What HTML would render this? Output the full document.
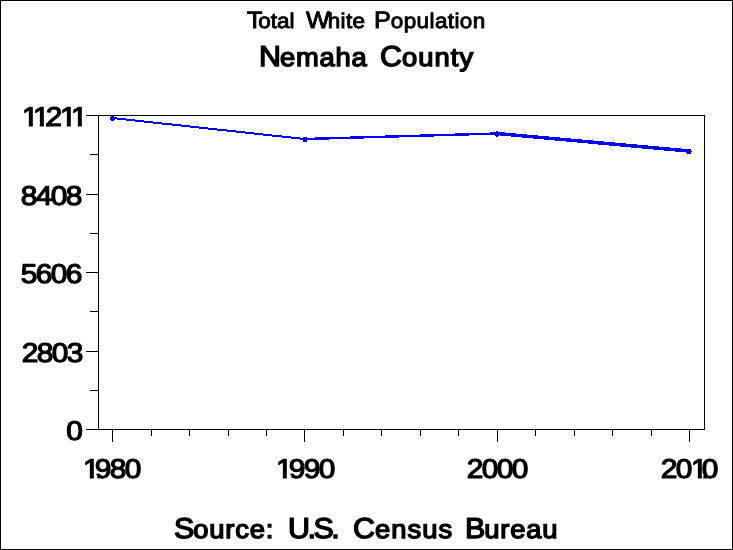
<!DOCTYPE html>
<html><head><meta charset="utf-8"><title>Total White Population - Nemaha County</title><style>
html,body{margin:0;padding:0;background:#fff;overflow:hidden;}
svg{display:block;}
text{font-family:"Liberation Sans", Arial, Helvetica, sans-serif;fill:#000;text-rendering:geometricPrecision;}
.ln{position:absolute;left:0;white-space:nowrap;font-size:0;line-height:0;margin:0;padding:0}
.w{display:inline-block;vertical-align:baseline;white-space:nowrap;margin:0;padding:0;line-height:0;font-family:"Liberation Sans", Arial, Helvetica, sans-serif;color:#000;text-rendering:geometricPrecision;transform-origin:0 0;}
.t1{font-size:21.2px;-webkit-text-stroke-width:0.9px;}
.t1::first-letter{font-size:23.8px;}
.t1.caps{font-size:23.8px;-webkit-text-stroke-width:0.9px;}
.t2{font-size:25.8px;-webkit-text-stroke-width:1.4px;}
.t2::first-letter{font-size:28.7px;}
.t2.caps{font-size:28.7px;-webkit-text-stroke-width:1.4px;}
.ft{font-size:25.8px;-webkit-text-stroke-width:1.4px;}
.ft::first-letter{font-size:28.7px;}
.ft.caps{font-size:28.7px;-webkit-text-stroke-width:1.4px;}
#w0::first-letter{margin-right:-4.00px;letter-spacing:0}
#w1::first-letter{margin-right:-2.00px;letter-spacing:0}
#w2::first-letter{margin-right:0.00px;letter-spacing:0}
#w3::first-letter{margin-right:-1.00px;letter-spacing:0}
#w4::first-letter{margin-right:0.00px;letter-spacing:0}
#w5::first-letter{margin-right:-1.00px;letter-spacing:0}
#w7::first-letter{margin-right:0.00px;letter-spacing:0}
#w8::first-letter{margin-right:-1.00px;letter-spacing:0}

</style></head><body>
<div class="ln" style="top:21.00px"><span id="w0" class="w t1" style="margin-left:247.00px;width:59.00px;transform:scaleX(1.06)">Total</span> <span id="w1" class="w t1" style="width:68.00px;letter-spacing:0.333px;transform:scaleX(1.06)">White</span> <span id="w2" class="w t1" style="letter-spacing:0.375px;transform:scaleX(1.06)">Population</span></div>
<div class="ln" style="top:57.00px"><span id="w3" class="w t2" style="margin-left:259.00px;width:121.00px;letter-spacing:0.750px;transform:scaleX(1.06)">Nemaha</span> <span id="w4" class="w t2" style="letter-spacing:1.000px;transform:scaleX(1.06)">County</span></div>
<svg width="733" height="550" viewBox="0 0 733 550">
<defs><clipPath id="c0" clipPathUnits="userSpaceOnUse"><path clip-rule="evenodd" d="M-50,-40H1000V20H-50ZM20.45,-3.23H26.22V4H20.45ZM29.82,-3.23H36.22V4H29.82ZM39.82,-3.23H41.84V4H39.82ZM55.44,-3.23H60.76V4H55.44ZM64.37,-3.23H70.76V4H64.37ZM74.37,-3.23H79.92V4H74.37Z"/></clipPath><clipPath id="c5" clipPathUnits="userSpaceOnUse"><path clip-rule="evenodd" d="M-50,-40H1000V20H-50ZM75.91,-3.23H81.67V4H75.91ZM85.28,-3.23H88.68V4H85.28Z"/></clipPath><clipPath id="c6" clipPathUnits="userSpaceOnUse"><path clip-rule="evenodd" d="M-50,-40H1000V20H-50ZM251.36,-3.23H257.13V4H251.36ZM260.73,-3.23H265.05V4H260.73Z"/></clipPath><clipPath id="c8" clipPathUnits="userSpaceOnUse"><path clip-rule="evenodd" d="M-50,-40H1000V20H-50ZM628.63,-3.23H634.40V4H628.63ZM638.00,-3.23H639.50V4H638.00Z"/></clipPath></defs>
<rect x="0" y="0" width="733" height="550" fill="#fff"/>
<rect x="0" y="0" width="733" height="1" fill="#000"/>
<rect x="0" y="549" width="733" height="1" fill="#000"/>
<rect x="0" y="0" width="1" height="550" fill="#000"/>
<rect x="732" y="0" width="1" height="550" fill="#000"/>
<rect x="98" y="115" width="607" height="1" fill="#000"/>
<rect x="704" y="115" width="1" height="315" fill="#000"/>
<rect x="86" y="429" width="619" height="1" fill="#000"/>
<rect x="98" y="115" width="1" height="315" fill="#000"/>
<rect x="86" y="115" width="12" height="1" fill="#000"/>
<rect x="86" y="194" width="12" height="1" fill="#000"/>
<rect x="86" y="272" width="12" height="1" fill="#000"/>
<rect x="86" y="351" width="12" height="1" fill="#000"/>
<rect x="86" y="429" width="12" height="1" fill="#000"/>
<rect x="90" y="154" width="8" height="1" fill="#000"/>
<rect x="90" y="233" width="8" height="1" fill="#000"/>
<rect x="90" y="311" width="8" height="1" fill="#000"/>
<rect x="90" y="390" width="8" height="1" fill="#000"/>
<rect x="112" y="429" width="1" height="13" fill="#000"/>
<rect x="304" y="429" width="1" height="13" fill="#000"/>
<rect x="497" y="429" width="1" height="13" fill="#000"/>
<rect x="689" y="429" width="1" height="13" fill="#000"/>
<rect x="151" y="429" width="1" height="7" fill="#000"/>
<rect x="189" y="429" width="1" height="7" fill="#000"/>
<rect x="228" y="429" width="1" height="7" fill="#000"/>
<rect x="266" y="429" width="1" height="7" fill="#000"/>
<rect x="343" y="429" width="1" height="7" fill="#000"/>
<rect x="381" y="429" width="1" height="7" fill="#000"/>
<rect x="420" y="429" width="1" height="7" fill="#000"/>
<rect x="458" y="429" width="1" height="7" fill="#000"/>
<rect x="535" y="429" width="1" height="7" fill="#000"/>
<rect x="574" y="429" width="1" height="7" fill="#000"/>
<rect x="612" y="429" width="1" height="7" fill="#000"/>
<rect x="651" y="429" width="1" height="7" fill="#000"/>
<text transform="translate(0,126) scale(1.1,1)" x="19.98 29.98 41.64 54.52 64.52" y="0" font-size="27.2" stroke="#000" stroke-width="1.2" stroke-linejoin="round" clip-path="url(#c0)">11211</text>
<text transform="translate(0,205) scale(1.1,1)" x="18.91 32.55 46.18 59.82" y="0" font-size="27.2" stroke="#000" stroke-width="1.2" stroke-linejoin="round">8408</text>
<text transform="translate(0,283) scale(1.1,1)" x="18.91 32.55 46.18 59.82" y="0" font-size="27.2" stroke="#000" stroke-width="1.2" stroke-linejoin="round">5606</text>
<text transform="translate(0,362) scale(1.1,1)" x="19.82 33.45 47.09 60.73" y="0" font-size="27.2" stroke="#000" stroke-width="1.2" stroke-linejoin="round">2803</text>
<text transform="translate(0,440) scale(1.1,1)" x="60.27" y="0" font-size="27.2" stroke="#000" stroke-width="1.2" stroke-linejoin="round">0</text>
<text transform="translate(0,478) scale(1.1,1)" x="75.43 86.18 99.82 113.45" y="0" font-size="27.2" stroke="#000" stroke-width="1.2" stroke-linejoin="round" clip-path="url(#c5)">1980</text>
<text transform="translate(0,478) scale(1.1,1)" x="250.89 262.55 276.18 289.82" y="0" font-size="27.2" stroke="#000" stroke-width="1.2" stroke-linejoin="round" clip-path="url(#c6)">1990</text>
<text transform="translate(0,478) scale(1.1,1)" x="424.36 438.00 451.64 465.27" y="0" font-size="27.2" stroke="#000" stroke-width="1.2" stroke-linejoin="round">2000</text>
<text transform="translate(0,478) scale(1.1,1)" x="600.73 614.36 628.16 638.00" y="0" font-size="27.2" stroke="#000" stroke-width="1.2" stroke-linejoin="round" clip-path="url(#c8)">2010</text>
<g fill="none" stroke="#0000ff" stroke-linecap="round" stroke-linejoin="round" shape-rendering="crispEdges">
<line x1="112" y1="118" x2="304.5" y2="139" stroke-width="2"/>
<line x1="304.5" y1="139" x2="497" y2="133.5" stroke-width="2.4"/>
<line x1="497" y1="133.5" x2="689" y2="151" stroke-width="3.5"/>
</g>
<g fill="#0000ff" shape-rendering="crispEdges">
<circle cx="112.5" cy="118.5" r="2.5"/>
<circle cx="305" cy="139.5" r="2.5"/>
<circle cx="497" cy="134" r="2.6"/>
<circle cx="689" cy="151.5" r="2.6"/>
</g>

</svg>
<div class="ln" style="top:529.00px"><span id="w5" class="w ft" style="margin-left:174.00px;width:114.00px;letter-spacing:0.800px;transform:scaleX(1.06)">Source:</span> <span id="w6" class="w ft caps" style="width:65.00px;letter-spacing:-2.333px;transform:scaleX(1.06)">U.S.</span> <span id="w7" class="w ft" style="width:112.00px;letter-spacing:1.000px;transform:scaleX(1.06)">Census</span> <span id="w8" class="w ft" style="letter-spacing:0.750px;transform:scaleX(1.06)">Bureau</span></div>
</body></html>
